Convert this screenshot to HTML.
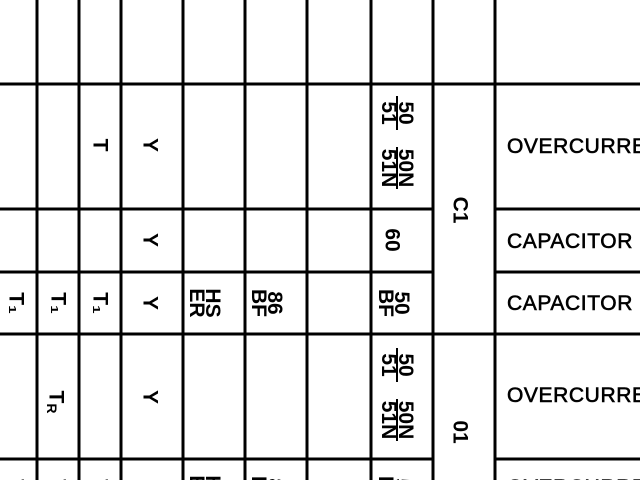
<!DOCTYPE html>
<html><head><meta charset="utf-8"><style>
html,body{margin:0;padding:0;background:#fff;width:640px;height:480px;overflow:hidden;}
svg{display:block;overflow:hidden;}
text{font-family:"Liberation Sans",sans-serif;font-size:21px;font-weight:bold;fill:#000;}
.d{font-size:21px;letter-spacing:0.6px;font-weight:normal;stroke:#000;stroke-width:0.6px;}
</style></head><body>
<svg width="640" height="480" viewBox="0 0 640 480">
<g stroke="#000" stroke-width="3">
<line x1="37" y1="0" x2="37" y2="480"/>
<line x1="79" y1="0" x2="79" y2="480"/>
<line x1="121" y1="0" x2="121" y2="480"/>
<line x1="183" y1="0" x2="183" y2="480"/>
<line x1="245" y1="0" x2="245" y2="480"/>
<line x1="307" y1="0" x2="307" y2="480"/>
<line x1="371" y1="0" x2="371" y2="480"/>
<line x1="433" y1="0" x2="433" y2="480"/>
<line x1="495" y1="0" x2="495" y2="480"/>
<line x1="0" y1="84" x2="640" y2="84"/>
<line x1="0" y1="209" x2="433" y2="209"/><line x1="495" y1="209" x2="640" y2="209"/>
<line x1="0" y1="272" x2="433" y2="272"/><line x1="495" y1="272" x2="640" y2="272"/>
<line x1="0" y1="334" x2="640" y2="334"/>
<line x1="0" y1="459" x2="433" y2="459"/><line x1="495" y1="459" x2="640" y2="459"/>
</g>
<!-- row 1 -->
<text transform="translate(100,145) rotate(90)" text-anchor="middle" dominant-baseline="central">T</text>
<text transform="translate(150,145) rotate(90)" text-anchor="middle" dominant-baseline="central">Y</text>
<g transform="translate(396,113) rotate(90)"><text x="0" y="-3" text-anchor="middle">50</text><text x="0" y="14" text-anchor="middle">51</text><line x1="-17" y1="-1" x2="17" y2="-1" stroke="#000" stroke-width="2"/></g>
<g transform="translate(396,168) rotate(90)"><text x="0" y="-3" text-anchor="middle">50N</text><text x="0" y="14" text-anchor="middle">51N</text><line x1="-21" y1="-1" x2="21" y2="-1" stroke="#000" stroke-width="2"/></g>
<text class="d" x="507" y="153">OVERCURRENT</text>
<!-- row 2 -->
<text transform="translate(150,240) rotate(90)" text-anchor="middle" dominant-baseline="central">Y</text>
<text transform="translate(392,240) rotate(90)" text-anchor="middle" dominant-baseline="central">60</text>
<text transform="translate(460,210) rotate(90)" text-anchor="middle" dominant-baseline="central">C1</text>
<text class="d" x="507" y="248">CAPACITOR</text>
<!-- row 3 and row 5 -->
<g>
<text transform="translate(16,303) rotate(90)" text-anchor="middle" dominant-baseline="central">T₁</text>
<text transform="translate(58,303) rotate(90)" text-anchor="middle" dominant-baseline="central">T₁</text>
<text transform="translate(100,303) rotate(90)" text-anchor="middle" dominant-baseline="central">T₁</text>
<text transform="translate(150,303) rotate(90)" text-anchor="middle" dominant-baseline="central">Y</text>
<g transform="translate(205,303) rotate(90)"><text x="0" y="-1" text-anchor="middle">HS</text><text x="0" y="15" text-anchor="middle">ER</text></g>
<g transform="translate(267,303) rotate(90)"><text x="0" y="-1" text-anchor="middle">86</text><text x="0" y="15" text-anchor="middle">BF</text></g>
<g transform="translate(394,303) rotate(90)"><text x="0" y="-1" text-anchor="middle">50</text><text x="0" y="15" text-anchor="middle">BF</text></g>
<text class="d" x="507" y="310">CAPACITOR</text>
</g>
<g>
<text transform="translate(16,490) rotate(90)" text-anchor="middle" dominant-baseline="central">T₁</text>
<text transform="translate(58,490) rotate(90)" text-anchor="middle" dominant-baseline="central">T₁</text>
<text transform="translate(100,490) rotate(90)" text-anchor="middle" dominant-baseline="central">T₁</text>
<g transform="translate(205,490) rotate(90)"><text x="0" y="-1" text-anchor="middle">HS</text><text x="0" y="15" text-anchor="middle">ER</text></g>
<g transform="translate(267,490) rotate(90)"><text x="0" y="-1" text-anchor="middle">86</text><text x="0" y="15" text-anchor="middle">BF</text></g>
<g transform="translate(394,490) rotate(90)"><text x="0" y="-1" text-anchor="middle">50</text><text x="0" y="15" text-anchor="middle">BF</text></g>
<text class="d" x="507" y="494">OVERCURRENT</text>
</g>
<!-- row 4 -->
<text transform="translate(56,402) rotate(90)" text-anchor="middle" dominant-baseline="central">T<tspan font-size="14" dy="4">R</tspan></text>
<text transform="translate(150,397) rotate(90)" text-anchor="middle" dominant-baseline="central">Y</text>
<g transform="translate(396,365) rotate(90)"><text x="0" y="-3" text-anchor="middle">50</text><text x="0" y="14" text-anchor="middle">51</text><line x1="-17" y1="-1" x2="17" y2="-1" stroke="#000" stroke-width="2"/></g>
<g transform="translate(396,420) rotate(90)"><text x="0" y="-3" text-anchor="middle">50N</text><text x="0" y="14" text-anchor="middle">51N</text><line x1="-21" y1="-1" x2="21" y2="-1" stroke="#000" stroke-width="2"/></g>
<text transform="translate(460,432) rotate(90)" text-anchor="middle" dominant-baseline="central">01</text>
<text class="d" x="507" y="402">OVERCURRENT</text>
</svg>
</body></html>
